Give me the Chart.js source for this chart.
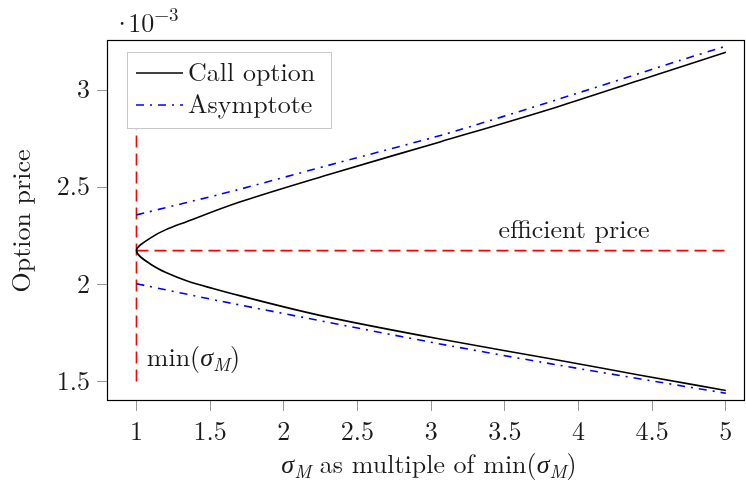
<!DOCTYPE html>
<html>
<head>
<meta charset="utf-8">
<script src="https://cdn.jsdelivr.net/npm/chart.js@4.4.0/dist/chart.umd.min.js"></script>
<style>
  html, body { margin: 0; padding: 0; background: #fff; }
</style>
</head>
<body>
<canvas id="chart" width="746" height="487"></canvas>
<script>
// values (y in units of 1e-3)
const callUpperX = [1, 1.11, 1.2, 1.34, 1.7, 2.3, 3.06, 3.85, 4.42, 5];
const callUpperY = [2.175, 2.247, 2.283, 2.324, 2.425, 2.566, 2.735, 2.914, 3.054, 3.197];
const callLowerX = [1, 1.11, 1.2, 1.34, 1.7, 2.3, 3.06, 3.81, 4.42, 5];
const callLowerY = [2.175, 2.098, 2.062, 2.020, 1.943, 1.832, 1.719, 1.618, 1.533, 1.454];

const asymUpperX = [1, 1.64, 2.38, 3.1, 3.86, 4.69, 5];
const asymUpperY = [2.359, 2.479, 2.630, 2.776, 2.954, 3.155, 3.228];
const asymLowerX = [1, 1.64, 3.06, 3.84, 5];
const asymLowerY = [2.004, 1.904, 1.694, 1.588, 1.440];

const efficientPrice = 2.175;
const minSigma = 1;
const minLineY = [1.5, 2.8];
const priceLineX = [1, 5];

const xTicks = [1, 1.5, 2, 2.5, 3, 3.5, 4, 4.5, 5];
const yTicks = [1.5, 2, 2.5, 3];

const FONT = '"Latin Modern Roman", "CMU Serif", "Liberation Serif", serif';
const FS = 26;

function pts(xs, ys) {
    return xs.map((x, i) => ({ x: x, y: ys[i] }));
}

// sorted by y: out along the lower branch to the nose, then up the upper one
// (x is a function of y, so the curve can be splined along the y axis)
const callData = pts(callLowerX, callLowerY).reverse().concat(pts(callUpperX, callUpperY).slice(1));

// draw a line of text with italic / subscript / superscript pieces
function drawRich(ctx, parts, x, y, align) {
    const fontOf = p => {
        let size = (p.sub || p.sup) ? Math.round(FS * 0.72) : FS;
        return (p.it ? 'italic ' : '') + size + 'px ' + FONT;
    };
    let total = 0;
    parts.forEach(p => {
        ctx.font = fontOf(p);
        p.w = ctx.measureText(p.t).width + (p.kern || 0);
        total += p.w;
    });
    let cx = align === 'center' ? x - total / 2 : (align === 'right' ? x - total : x);
    ctx.textAlign = 'left';
    ctx.textBaseline = 'alphabetic';
    parts.forEach(p => {
        ctx.font = fontOf(p);
        let dy = p.sub ? 5 : (p.sup ? -11 : 0);
        ctx.fillText(p.t, cx, y + dy);
        cx += p.w;
    });
}

const decor = {
    id: 'decor',
    afterDatasetsDraw(chart) {
        const ctx = chart.ctx;
        const a = chart.chartArea;
        const xs = chart.scales.x, ys = chart.scales.y;
        ctx.save();

        // frame
        ctx.strokeStyle = '#000';
        ctx.lineWidth = 1.2;
        ctx.strokeRect(a.left + 0.5, a.top + 0.5, a.right - a.left - 1, a.bottom - a.top - 1);

        ctx.fillStyle = '#1a1a1a';

        // annotations
        drawRich(ctx, [{ t: 'efficient price' }], xs.getPixelForValue(3.97), ys.getPixelForValue(efficientPrice) - 13, 'center');
        drawRich(ctx, [{ t: 'min(' }, { t: 'σ', it: true }, { t: 'M', it: true, sub: true }, { t: ')' }],
            xs.getPixelForValue(1.07), ys.getPixelForValue(1.58), 'left');

        // legend
        const lx = a.left + 20, ly = a.top + 12, lw = 204, lh = 76;
        ctx.fillStyle = '#fff';
        ctx.fillRect(lx, ly, lw, lh);
        ctx.strokeStyle = '#c8c8c8';
        ctx.lineWidth = 1;
        ctx.strokeRect(lx + 0.5, ly + 0.5, lw, lh);

        ctx.lineWidth = 1.5;
        ctx.strokeStyle = '#000';
        ctx.beginPath(); ctx.moveTo(lx + 9, ly + 21); ctx.lineTo(lx + 56, ly + 21); ctx.stroke();
        ctx.strokeStyle = '#0000ff';
        ctx.setLineDash([8, 6, 2, 6]);
        ctx.beginPath(); ctx.moveTo(lx + 9, ly + 53); ctx.lineTo(lx + 56, ly + 53); ctx.stroke();
        ctx.setLineDash([]);

        ctx.fillStyle = '#1a1a1a';
        drawRich(ctx, [{ t: 'Call option' }], lx + 61, ly + 29, 'left');
        drawRich(ctx, [{ t: 'Asymptote' }], lx + 61, ly + 61, 'left');

        // exponent of the y axis
        drawRich(ctx, [{ t: '·', kern: -4 }, { t: '10' }, { t: '−3', sup: true }], a.left + 5, 32, 'left');

        // axis titles
        drawRich(ctx, [{ t: 'σ', it: true }, { t: 'M', it: true, sub: true }, { t: ' as multiple of min(' },
            { t: 'σ', it: true }, { t: 'M', it: true, sub: true }, { t: ')' }], 429, 473, 'center');

        ctx.translate(30, 221);
        ctx.rotate(-Math.PI / 2);
        drawRich(ctx, [{ t: 'Option price' }], 0, 0, 'center');

        ctx.restore();
    }
};

const ctx = document.getElementById('chart').getContext('2d');
new Chart(ctx, {
    type: 'scatter',
    data: {
        datasets: [
            {
                label: 'Call option',
                data: callData,
                indexAxis: 'y',
                showLine: true,
                borderColor: '#000',
                borderWidth: 1.6,
                pointRadius: 0,
                cubicInterpolationMode: 'monotone'
            },
            {
                label: 'Asymptote',
                data: pts(asymUpperX, asymUpperY),
                showLine: true,
                borderColor: '#0000ff',
                borderWidth: 1.6,
                borderDash: [8, 6, 2, 6],
                pointRadius: 0,
                tension: 0.2
            },
            {
                label: 'Asymptote lower',
                data: pts(asymLowerX, asymLowerY),
                showLine: true,
                borderColor: '#0000ff',
                borderWidth: 1.6,
                borderDash: [8, 6, 2, 6],
                pointRadius: 0,
                tension: 0.2
            },
            {
                label: 'efficient price',
                data: priceLineX.map(x => ({ x: x, y: efficientPrice })),
                showLine: true,
                borderColor: '#ff0000',
                borderWidth: 1.6,
                borderDash: [12, 6],
                pointRadius: 0
            },
            {
                label: 'min sigma',
                data: minLineY.map(y => ({ x: minSigma, y: y })),
                showLine: true,
                borderColor: '#ff0000',
                borderWidth: 1.6,
                borderDash: [12, 6],
                pointRadius: 0
            }
        ]
    },
    options: {
        responsive: false,
        animation: false,
        devicePixelRatio: 1,
        layout: { padding: { left: 0, right: 1, top: 40, bottom: 0 } },
        plugins: {
            legend: { display: false },
            tooltip: { enabled: false }
        },
        scales: {
            x: {
                type: 'linear',
                min: 0.8,
                max: 5.13,
                afterBuildTicks: s => { s.ticks = xTicks.map(v => ({ value: v })); },
                afterFit: s => { s.height = 86; },
                border: { display: false },
                grid: { drawOnChartArea: false, tickLength: 10, color: '#999' },
                ticks: {
                    color: '#1a1a1a',
                    padding: 5,
                    maxRotation: 0,
                    font: { family: FONT, size: FS },
                    callback: v => String(v)
                }
            },
            y: {
                type: 'linear',
                min: 1.4,
                max: 3.26,
                afterBuildTicks: s => { s.ticks = yTicks.map(v => ({ value: v })); },
                afterFit: s => { s.width = 107; },
                border: { display: false },
                grid: { drawOnChartArea: false, tickLength: 10, color: '#999' },
                ticks: {
                    color: '#1a1a1a',
                    padding: 7,
                    font: { family: FONT, size: FS },
                    callback: v => String(v)
                }
            }
        }
    },
    plugins: [decor]
});
</script>
</body>
</html>
